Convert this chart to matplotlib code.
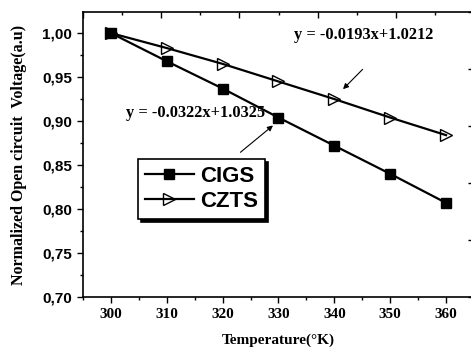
import matplotlib
matplotlib.use("Agg")
import matplotlib.pyplot as plt
from matplotlib.ticker import MultipleLocator

temperature = [300, 310, 320, 330, 340, 350, 360]
cigs = [1.000, 0.968, 0.937, 0.904, 0.872, 0.840, 0.807]
czts = [1.000, 0.983, 0.965, 0.945, 0.925, 0.904, 0.884]
yticks = [0.70, 0.75, 0.80, 0.85, 0.90, 0.95, 1.00]
ytick_labels = ["0,70", "0,75", "0,80", "0,85", "0,90", "0,95", "1,00"]
xticks = [300, 310, 320, 330, 340, 350, 360]
eq_czts = "y = -0.0193x+1.0212"
eq_cigs = "y = -0.0322x+1.0325"

W, H = 471, 349
fig = plt.figure(figsize=(W / 100, H / 100), dpi=100)
L, R, B, T = 83 / W, 474 / W, 1 - 297 / H, 1 - 12 / H
ax = fig.add_axes([L, B, R - L, T - B])

ax.plot(temperature, cigs, color="black", lw=1.6, marker="s", ms=7.5,
        mfc="black", mec="black", label="CIGS")
ax.plot(temperature, czts, color="black", lw=1.6, marker=">", ms=9,
        mfc="none", mec="black", mew=1.0, label="CZTS")

ax.set_xlim(295, 365)
ax.set_ylim(0.70, 1.024)
ax.set_xticks(xticks)
ax.set_xticklabels([str(t) for t in xticks], fontfamily="Liberation Serif",
                   fontweight="bold", fontsize=11)
ax.xaxis.set_minor_locator(MultipleLocator(5))
ax.set_yticks(yticks)
ax.set_yticklabels(ytick_labels, fontfamily="Liberation Sans",
                   fontweight="bold", fontsize=11)
ax.yaxis.set_minor_locator(MultipleLocator(0.025))
ax.tick_params(which="major", direction="out", length=4, width=1, pad=4)
ax.tick_params(which="minor", direction="out", length=2.5, width=1)
for s in ["top", "right"]:
    ax.spines[s].set_visible(False)
for s in ["left", "bottom"]:
    ax.spines[s].set_linewidth(1.2)

# secondary frame (top and right) with its own ticks
ax2 = fig.add_axes([L, B, R - L, T - B])
ax2.set_xlim(0, 5)
ax2.set_ylim(0, 5)
ax2.patch.set_visible(False)
ax2.spines["left"].set_visible(False)
ax2.spines["bottom"].set_visible(False)
ax2.spines["top"].set_linewidth(1.2)
ax2.spines["right"].set_linewidth(1.2)
ax2.xaxis.tick_top()
ax2.yaxis.tick_right()
ax2.xaxis.set_major_locator(MultipleLocator(1))
ax2.xaxis.set_minor_locator(MultipleLocator(0.5))
ax2.yaxis.set_major_locator(MultipleLocator(1))
ax2.tick_params(which="both", direction="in", labeltop=False, labelright=False,
                labelbottom=False, labelleft=False, width=1)
ax2.tick_params(which="major", length=4)
ax2.tick_params(which="minor", length=2.5)

ax.set_xlabel("Temperature(°K)", fontfamily="Liberation Serif",
              fontweight="bold", fontsize=11, labelpad=9)
ax.set_ylabel("Normalized Open circuit  Voltage(a.u)", fontfamily="Liberation Serif",
              fontweight="bold", fontsize=11.5, labelpad=11)

ax.annotate("", xy=(341.2, 0.934), xytext=(345.4, 0.961),
            arrowprops=dict(arrowstyle="-|>", color="black", lw=0.8,
                            mutation_scale=8))
ax.annotate("", xy=(329.4, 0.897), xytext=(322.8, 0.8625),
            arrowprops=dict(arrowstyle="-|>", color="black", lw=0.8,
                            mutation_scale=8))
ax.text(345.2, 0.998, eq_czts, ha="center", va="center",
        fontfamily="Liberation Serif", fontweight="bold", fontsize=11.8)
ax.text(315.2, 0.909, eq_cigs, ha="center", va="center",
        fontfamily="Liberation Serif", fontweight="bold", fontsize=11.8)

leg = ax.legend(loc="upper left", bbox_to_anchor=(0.141, 0.484),
                borderaxespad=0, frameon=True, fancybox=False,
                shadow={"color": "black", "alpha": 1},
                prop={"family": "Liberation Sans", "weight": "bold", "size": 16},
                handlelength=2.2, handletextpad=0.3, borderpad=0.3,
                labelspacing=0.2)
leg.get_frame().set_edgecolor("black")
leg.get_frame().set_linewidth(1.2)
leg.set_zorder(5)

fig.savefig("out.png", dpi=100)
